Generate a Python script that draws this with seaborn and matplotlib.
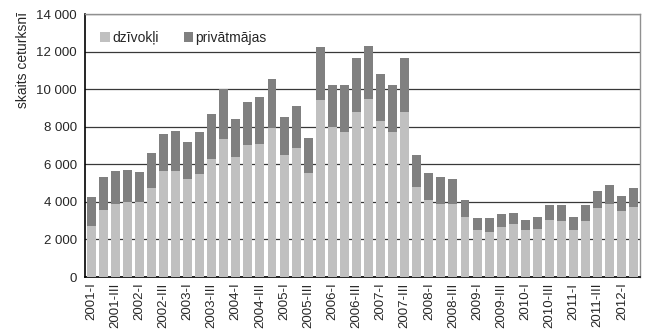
import matplotlib
matplotlib.use("Agg")
import matplotlib.pyplot as plt
import matplotlib.ticker as mticker
from matplotlib.patches import Patch
import seaborn as sns
import pandas as pd
import numpy as np

years = list(range(2001, 2013))
roman = ["I", "II", "III", "IV"]
quarters = [f"{y}-{r}" for y in years for r in roman][:46]

dzivokli = [2740, 3590, 3910, 4020, 4020, 4760, 5660, 5660, 5240, 5460,
            6270, 7340, 6380, 7020, 7070, 7920, 6480, 6860, 5520, 9450,
            8010, 7700, 8810, 9500, 8330, 7700, 8810, 4770, 4120, 3910,
            3910, 3170, 2480, 2420, 2690, 2800, 2480, 2580, 3060, 3010,
            2530, 2960, 3650, 3910, 3490, 3750]
kopa = [4280, 5350, 5660, 5720, 5610, 6620, 7630, 7790, 7170, 7750,
        8670, 10020, 8400, 9310, 9570, 10530, 8510, 9090, 7390, 12270,
        10250, 10200, 11680, 12320, 10830, 10200, 11680, 6520, 5560, 5350,
        5240, 4120, 3120, 3120, 3380, 3430, 3060, 3220, 3860, 3810,
        3170, 3810, 4600, 4920, 4340, 4760]

y_ticks = [0, 2000, 4000, 6000, 8000, 10000, 12000, 14000]

LIGHT = "#c0c0c0"
DARK = "#808080"

df = pd.DataFrame({"q": quarters, "dz": dzivokli, "tot": kopa})

sns.set_style("white")
plt.rcParams["font.family"] = ["Liberation Sans", "DejaVu Sans"]

fig = plt.figure(figsize=(6.46, 3.29), dpi=100)
ax = fig.add_axes([0.1316, 0.158, 0.859, 0.799])

sns.barplot(data=df, x="q", y="tot", color=DARK, saturation=1, width=0.74, ax=ax, zorder=3)
sns.barplot(data=df, x="q", y="dz", color=LIGHT, saturation=1, width=0.74, ax=ax, zorder=3)
for p in ax.patches:
    p.set_linewidth(0)

ax.set_ylim(0, 14000)
ax.set_xlim(-0.5, len(quarters) - 0.5)
ax.set_yticks(y_ticks)
ax.yaxis.set_major_formatter(mticker.FuncFormatter(lambda v, _: f"{int(v):,}".replace(",", " ")))
ax.grid(axis="y", color="#383838", linewidth=0.9, zorder=1)
ax.set_axisbelow(True)

ax.set_xticks(range(0, len(quarters), 2))
ax.set_xticklabels(quarters[::2], rotation=90, fontsize=9.5)
ax.set_xticks(np.arange(-0.5, len(quarters), 1), minor=True)
ax.tick_params(axis="x", which="major", length=0, pad=4)
ax.tick_params(axis="x", which="minor", length=4, width=1, color="black", direction="out")
ax.tick_params(axis="y", which="major", length=4, width=1, color="black", direction="out", labelsize=9.5, pad=2)

ax.set_xlabel("")
ax.set_ylabel("skaits ceturksnī", fontsize=10)
ax.yaxis.set_label_coords(-0.099, 0.825)

for s in ["left", "bottom"]:
    ax.spines[s].set_color("black")
    ax.spines[s].set_linewidth(1.2)
for s in ["top", "right"]:
    ax.spines[s].set_visible(True)
    ax.spines[s].set_color("#909090")
    ax.spines[s].set_linewidth(1.0)

handles = [Patch(facecolor=LIGHT, edgecolor="none", label="dzīvokļi"),
           Patch(facecolor=DARK, edgecolor="none", label="privātmājas")]
ax.legend(handles=handles, loc="upper left", ncol=2, frameon=False, fontsize=10,
          handlelength=0.7, handleheight=0.7, handletextpad=0.15, columnspacing=1.8,
          bbox_to_anchor=(0.005, 0.985))

fig.savefig("out.png", dpi=100)
